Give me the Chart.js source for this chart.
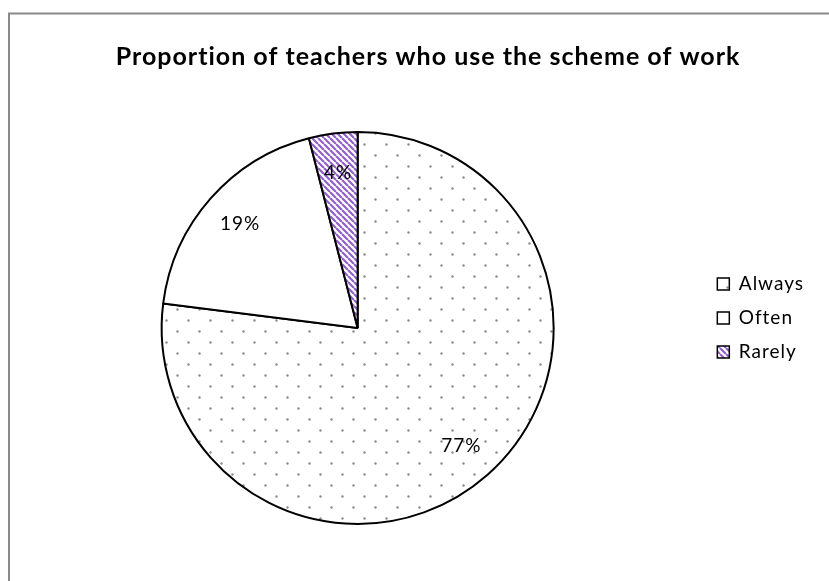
<!DOCTYPE html>
<html>
<head>
<meta charset="utf-8">
<script src="https://cdn.jsdelivr.net/npm/chart.js"></script>
<style>
  html, body { margin: 0; padding: 0; background: #fff; }
</style>
</head>
<body>
<canvas id="myChart" width="829" height="581"></canvas>
<script>
const chartTitle = 'Proportion of teachers who use the scheme of work';
const categories = ['Always', 'Often', 'Rarely'];
const shares = [77, 19, 4];

// excel-like fill patterns
function dotPattern() {
  const t = document.createElement('canvas');
  t.width = 22; t.height = 22;
  const c = t.getContext('2d');
  c.fillStyle = '#fff';
  c.fillRect(0, 0, 22, 22);
  c.fillStyle = '#8c8c8c';
  c.beginPath(); c.arc(1.5, 1.5, 1.2, 0, Math.PI * 2); c.fill();
  c.beginPath(); c.arc(12.5, 12.5, 1.2, 0, Math.PI * 2); c.fill();
  return c.createPattern(t, 'repeat');
}

function stripePattern() {
  const s = 6;
  const t = document.createElement('canvas');
  t.width = s; t.height = s;
  const c = t.getContext('2d');
  c.fillStyle = '#fff';
  c.fillRect(0, 0, s, s);
  c.strokeStyle = '#9160c8';
  c.lineWidth = 2.2;
  c.beginPath();
  for (const x0 of [-s, 0, s]) {
    c.moveTo(x0, 0);
    c.lineTo(x0 + s, s);
  }
  c.stroke();
  return c.createPattern(t, 'repeat');
}

const fills = [dotPattern(), '#ffffff', stripePattern()];

const frameAndTitle = {
  id: 'frameAndTitle',
  beforeUpdate(chart) {
    // the original text is rather widely spaced
    chart.ctx.letterSpacing = '1px';
  },
  beforeDraw(chart) {
    const c = chart.ctx;
    c.save();
    c.fillStyle = '#fff';
    c.fillRect(0, 0, chart.width, chart.height);
    c.strokeStyle = '#8a8a8a';
    c.lineWidth = 2;
    c.beginPath();
    c.moveTo(9, chart.height);
    c.lineTo(9, 13.5);
    c.lineTo(chart.width, 13.5);
    c.stroke();
    c.font = 'bold 25px Lato';
    c.fillStyle = '#000';
    c.textAlign = 'center';
    c.textBaseline = 'middle';
    c.fillText(chartTitle, 428, 57);
    c.restore();
  },
  afterLayout(chart) {
    // legend sits a little above the pie centre in the original
    chart.legend.top -= 10;
    chart.legend.bottom -= 10;
  }
};

const pctLabels = {
  id: 'pctLabels',
  afterDatasetsDraw(chart) {
    const c = chart.ctx;
    const meta = chart.getDatasetMeta(0);
    c.save();
    c.font = '19px Lato';
    c.fillStyle = '#000';
    c.textAlign = 'center';
    c.textBaseline = 'middle';
    meta.data.forEach((arc, i) => {
      const p = arc.getProps(['x', 'y', 'startAngle', 'endAngle', 'outerRadius'], true);
      const mid = (p.startAngle + p.endAngle) / 2;
      const r = p.outerRadius * 0.8;
      c.fillText(shares[i] + '%', p.x + Math.cos(mid) * r, p.y + Math.sin(mid) * r);
    });
    c.restore();
  }
};

new Chart(document.getElementById('myChart'), {
  type: 'pie',
  data: {
    labels: categories,
    datasets: [{
      data: shares,
      backgroundColor: fills,
      borderColor: '#000',
      borderWidth: 2
    }]
  },
  options: {
    responsive: false,
    animation: false,
    layout: { padding: { left: 13, right: 15, top: 131, bottom: 56 } },
    plugins: {
      tooltip: { enabled: false },
      legend: {
        position: 'right',
        align: 'center',
        labels: {
          boxWidth: 12,
          boxHeight: 12,
          padding: 15,
          color: '#000',
          font: { family: 'Lato', size: 19 },
          generateLabels(chart) {
            const items = Chart.overrides.pie.plugins.legend.labels.generateLabels(chart);
            items.forEach(it => { it.lineWidth = 1.5; it.strokeStyle = '#000'; });
            return items;
          }
        }
      }
    }
  },
  plugins: [frameAndTitle, pctLabels]
});
</script>
</body>
</html>
